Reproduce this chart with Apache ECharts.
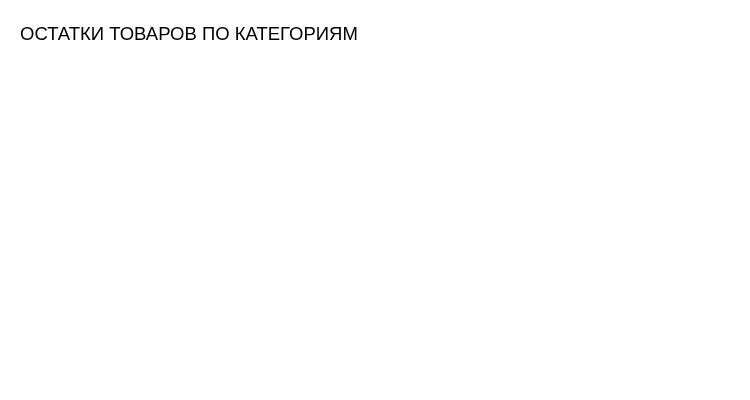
<!DOCTYPE html>
<html>
<head>
<meta charset="utf-8">
<script src="https://cdn.jsdelivr.net/npm/echarts@6/dist/echarts.min.js"></script>
<style>
    html, body { margin: 0; padding: 0; background: #fff; }
    #chart { width: 750px; height: 400px; }
</style>
</head>
<body>
<div id="chart"></div>
<script>
// no data came back for the chart: only the title is drawn
const categories = [];
const stock = [];

var chart = echarts.init(document.getElementById("chart"));

var option = {
    backgroundColor: '#ffffff',
    animation: false,
    title: {
        text: 'ОСТАТКИ ТОВАРОВ ПО КАТЕГОРИЯМ',
        left: 20,
        top: 25,
        padding: 0,
        textStyle: {
            fontFamily: 'Liberation Sans, Arial, sans-serif',
            fontSize: 18.5,
            fontWeight: 'normal',
            color: '#000'
        }
    },
    grid: { left: 60, right: 30, top: 70, bottom: 40 },
    xAxis: {
        type: 'category',
        data: categories,
        show: false
    },
    yAxis: {
        type: 'value',
        show: false
    },
    series: [
        {
            name: 'Остаток',
            type: 'bar',
            data: stock
        }
    ]
};

chart.setOption(option);
</script>
</body>
</html>
